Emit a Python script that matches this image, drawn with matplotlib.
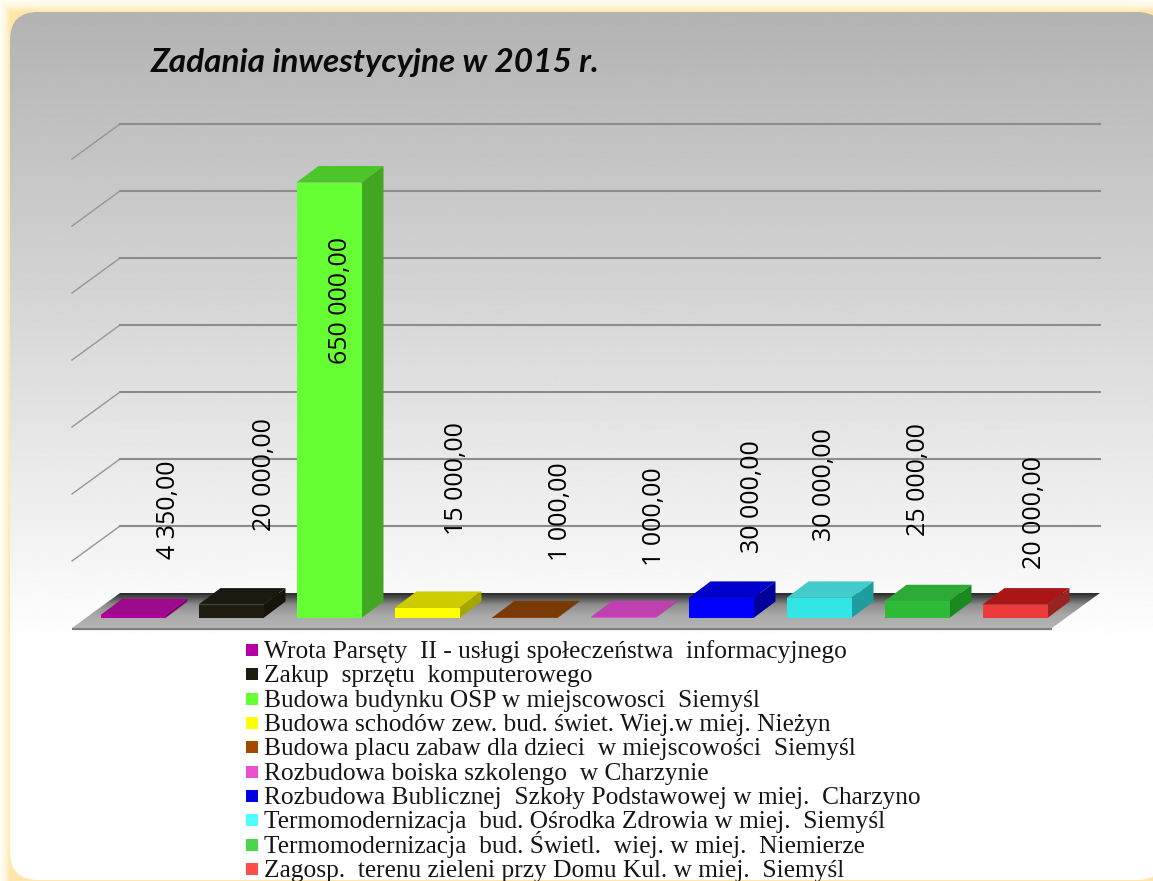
import numpy as np
import matplotlib
matplotlib.use('Agg')
import matplotlib.pyplot as plt
from matplotlib.patches import FancyBboxPatch, Polygon, Rectangle
from matplotlib.colors import LinearSegmentedColormap

names = ['Wrota Parsęty  II - usługi społeczeństwa  informacyjnego',
         'Zakup  sprzętu  komputerowego',
         'Budowa budynku OSP w miejscowosci  Siemyśl',
         'Budowa schodów zew. bud. świet. Wiej.w miej. Nieżyn',
         'Budowa placu zabaw dla dzieci  w miejscowości  Siemyśl',
         'Rozbudowa boiska szkolengo  w Charzynie',
         'Rozbudowa Bublicznej  Szkoły Podstawowej w miej.  Charzyno',
         'Termomodernizacja  bud. Ośrodka Zdrowia w miej.  Siemyśl',
         'Termomodernizacja  bud. Świetl.  wiej. w miej.  Niemierze',
         'Zagosp.  terenu zieleni przy Domu Kul. w miej.  Siemyśl']
values = [4350, 20000, 650000, 15000, 1000, 1000, 30000, 30000, 25000, 20000]
value_labels = ['4 350,00', '20 000,00', '650 000,00', '15 000,00', '1 000,00',
                '1 000,00', '30 000,00', '30 000,00', '25 000,00', '20 000,00']
grid_values = [100000, 200000, 300000, 400000, 500000, 600000, 700000]

front = ['#B400A0', '#201D10', '#66FF33', '#FFFF00', '#8F4400',
         '#E04FD0', '#0000FF', '#33E6E6', '#2DBB38', '#EE3A3A']
top = ['#9E0A8C', '#1B1A10', '#4CC528', '#CCCC00', '#7A3A05',
       '#C040B0', '#0000CC', '#44CCCC', '#2EAA38', '#AA1515']
side = ['#800070', '#171509', '#41A621', '#A6A600', '#5F2E00',
        '#9A3090', '#000099', '#1F9CA0', '#1A8A20', '#992222']
legend_colors = ['#B400A0', '#201D10', '#66FF33', '#FFFF00', '#A04B00',
                 '#E850D0', '#0000E0', '#4DFFFF', '#4DD44D', '#FF4D4D']

# where the value labels sit relative to the top of each bar, in pixels
label_dx = [35, 34, 12, 30, 36, 32, 32, 6, 2, 20]
label_dy = [105, 130, -118, 129, 106, 101, 101, 113, 122, 92]

W, H = 1153, 881
px_per_cat = 98.
px_per_val = 67. / 100000
base_px = 618.
left_px = 72.


def dx(p):
    return p / px_per_cat


def dy(p):
    return p / px_per_val


fig = plt.figure(figsize=(W / 100., H / 100.), dpi=100)

# background: cream glow and rounded grey-white panel
bg = fig.add_axes([0, 0, 1, 1])
bg.axis('off')
xx, yy = np.meshgrid(np.arange(W), np.arange(H))
edge = np.clip(np.minimum(xx / 10., yy / 12.), 0, 1)
glow = LinearSegmentedColormap.from_list('glow', ['#FFFDF5', '#FFF6DC', '#FFE6A8'])
bg.imshow(edge, cmap=glow, extent=[0, W, H, 0], aspect='auto', vmin=0, vmax=1)
bg.set_xlim(0, W)
bg.set_ylim(H, 0)
panel = FancyBboxPatch((36, 38), 1103, 816, boxstyle='round,pad=26,rounding_size=28',
                       fc='none', ec='none')
bg.add_patch(panel)
grad = np.linspace(0.70, 1.0, 640)[:, None]
im = bg.imshow(np.vstack([grad, np.ones((H - 640, 1))]), cmap='gray', vmin=0, vmax=1,
               extent=[0, W, H, 12], aspect='auto')
im.set_clip_path(panel)
bg.set_xlim(0, W)
bg.set_ylim(H, 0)

# chart axes, scaled so that 1 category = 98 px and 100000 = 67 px
ax = fig.add_axes([0, 0, 1, 1])
ax.patch.set_alpha(0)
ax.axis('off')

n = len(values)
floor_front = dy(-10)
floor_back = dy(25)
back_x = dx(48)

# floor slab
ax.plot([0, n], [floor_front - dy(1), floor_front - dy(1)], color='#7D7D7D', lw=1.6,
        zorder=2, solid_capstyle='butt')
floor = Polygon([(0, floor_front), (n, floor_front), (n + back_x, floor_back),
                 (back_x, floor_back)], closed=True, fc='none', ec='none')
ax.add_patch(floor)
fade = LinearSegmentedColormap.from_list('fade', ['#2A2A2A', '#8E8E8E', '#ABABAB', '#B4B4B4'])
fim = ax.imshow(np.linspace(0, 1, 64)[:, None], cmap=fade, aspect='auto', zorder=2,
                extent=[0, n + 1, floor_front, floor_back])
fim.set_clip_path(floor)

# grid lines on the side and back wall
for g in grid_values:
    ax.plot([0, back_x], [g + floor_front, g + floor_back], color='#969696', lw=1.0, zorder=1)
    ax.plot([back_x, n + back_x], [g + floor_back, g + floor_back],
            color='#8C8C8C', lw=1.5, zorder=1)

# bars with fake depth
x = np.arange(n) + dx(61)
width = dx(65)
depth_x = dx(22)
depth_y = dy(16.5)
ax.bar(x, values, width=width, color=front, zorder=4)
for i in range(n):
    l = x[i] - width / 2
    r = x[i] + width / 2
    v = values[i]
    ax.add_patch(Polygon([(l, v), (r, v), (r + depth_x, v + depth_y), (l + depth_x, v + depth_y)],
                         closed=True, fc=top[i], ec='none', zorder=3))
    ax.add_patch(Polygon([(r, 0), (r + depth_x, depth_y), (r + depth_x, v + depth_y), (r, v)],
                         closed=True, fc=side[i], ec='none', zorder=3))
    ax.annotate(value_labels[i], xy=(x[i], v), xytext=(label_dx[i], label_dy[i]),
                textcoords='offset pixels', rotation=90, ha='center', va='center',
                fontsize=18, family='Open Sans', color='#000000', zorder=6)

ax.set_xlim(-left_px / px_per_cat, (W - left_px) / px_per_cat)
ax.set_ylim(-(H - base_px) / px_per_val, base_px / px_per_val)

fig.text(151 / W, 1 - 72 / H, 'Zadania inwestycyjne w 2015 r.', fontsize=24,
         family='Lato', weight='bold', style='italic', color='#0A0A0A', va='baseline')

# legend keeps a fixed line pitch, which ax.legend does not do with this font
for i in range(n):
    base = 658 + 24.35 * i
    bg.add_patch(Rectangle((246, base - 14), 12, 12, fc=legend_colors[i], ec='none', zorder=5))
    bg.text(264, base, names[i], family='Liberation Serif', fontsize=18.3, color='#151515',
            va='baseline', ha='left', zorder=5, clip_on=True)

fig.savefig('out.png', dpi=100)
